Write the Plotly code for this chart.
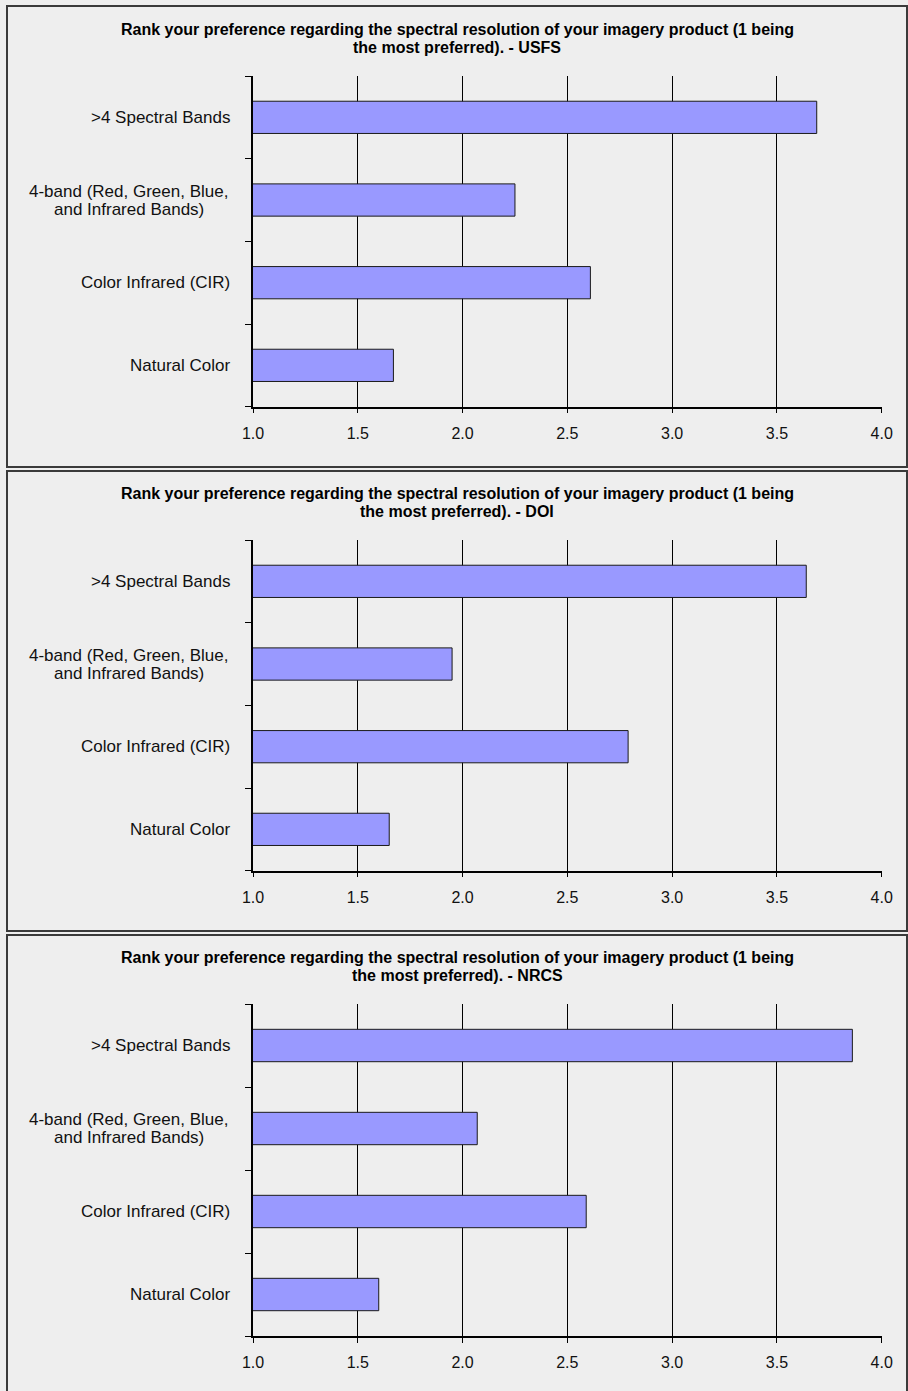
import plotly.graph_objects as go

# ---------------- data ----------------
categories = ["Natural Color", "Color Infrared (CIR)",
              "4-band (Red, Green, Blue,<br>and Infrared Bands)", ">4 Spectral Bands"]
usfs = [1.67, 2.61, 2.25, 3.69]
doi = [1.65, 2.79, 1.95, 3.64]
nrcs = [1.60, 2.59, 2.07, 3.86]
panel_names = ["USFS", "DOI", "NRCS"]
panel_values = [usfs, doi, nrcs]
title_lines = ["Rank your preference regarding the spectral resolution of your imagery product (1 being",
               "the most preferred). - {}"]
x_ticks = [1.0, 1.5, 2.0, 2.5, 3.0, 3.5, 4.0]
x_tick_labels = ["1.0", "1.5", "2.0", "2.5", "3.0", "3.5", "4.0"]

# ---------------- layout (pixels) ----------------
W, H = 908, 1391
BG = "#EEEEEE"
BAR = "#9999FF"
FONT = "Liberation Sans, Arial, sans-serif"
plot_x0, plot_x1 = 253, 881.7
plots_y = [(76, 406.7), (540, 870.7), (1004, 1336)]
panels_y = [(6, 467), (471, 931), (935, 1400)]
title_y = [29, 493, 957]
LINE_GAP = 18
LABEL_RIGHT = 232
MULTI_CENTER = 128.5

fig = go.Figure()

def px_x(p):
    return p / W

def px_y(p):
    return 1 - p / H

for i, (name, vals) in enumerate(zip(panel_names, panel_values)):
    n = "" if i == 0 else str(i + 1)
    fig.add_trace(go.Bar(
        x=vals, y=categories, orientation="h",
        width=0.39,
        marker=dict(color=BAR, line=dict(color="#1a1a1a", width=1)),
        xaxis="x" + n, yaxis="y" + n, showlegend=False,
    ))
    y0, y1 = plots_y[i]
    fig.layout["xaxis" + n] = dict(
        domain=[px_x(plot_x0), px_x(plot_x1)], anchor="y" + n,
        range=[1, 4], tickvals=x_ticks, ticktext=x_tick_labels,
        showgrid=True, gridcolor="#000000", gridwidth=1,
        showline=True, linecolor="#000000", linewidth=1.5,
        ticks="outside", ticklen=5, tickcolor="#000000", tickwidth=1,
        ticklabelstandoff=6,
        tickfont=dict(family=FONT, size=16, color="#111111"),
        zeroline=False, fixedrange=True,
    )
    fig.layout["yaxis" + n] = dict(
        domain=[px_y(y1), px_y(y0)], anchor="x" + n,
        type="category", categoryorder="array", categoryarray=categories,
        range=[-0.5, 3.5],
        showline=True, linecolor="#000000", linewidth=1.5,
        ticks="outside", ticklen=6, tickcolor="#000000", tickwidth=1,
        tickson="boundaries", showticklabels=False,
        showgrid=False, zeroline=False, fixedrange=True,
    )
    for cat in categories:
        parts = cat.split("<br>")
        k = len(parts)
        for j, part in enumerate(parts):
            if k == 1:
                ax, anchor = LABEL_RIGHT, "right"
            else:
                ax, anchor = MULTI_CENTER, "center"
            fig.add_annotation(
                x=px_x(ax), xref="paper", xanchor=anchor,
                y=cat, yref="y" + n, yanchor="middle",
                yshift=-(j - (k - 1) / 2) * LINE_GAP,
                text=part, showarrow=False, align="center",
                font=dict(family=FONT, size=17, color="#111111"),
            )
    # two-line title
    for j, line in enumerate(title_lines):
        fig.add_annotation(
            x=px_x(457), xref="paper", xanchor="center",
            y=px_y(title_y[i] + j * LINE_GAP), yref="paper", yanchor="middle",
            text="<b>" + line.format(name) + "</b>",
            showarrow=False, align="center",
            font=dict(family=FONT, size=16, color="#000000"),
        )
    py0, py1 = panels_y[i]
    fig.add_shape(type="rect", xref="paper", yref="paper",
                  x0=px_x(7), x1=px_x(907), y0=px_y(py1), y1=px_y(py0),
                  line=dict(color="#3a3a3a", width=2), fillcolor="rgba(0,0,0,0)", layer="below")

fig.update_layout(
    width=W, height=H,
    margin=dict(l=0, r=0, t=0, b=0, pad=0, autoexpand=False),
    paper_bgcolor=BG, plot_bgcolor=BG,
    font=dict(family=FONT),
)

fig.write_html(
    "out.html",
    config={"displayModeBar": False},
    post_script="document.body.style.margin='0';document.body.style.overflow='hidden';"
                "document.documentElement.style.overflow='hidden';",
)
